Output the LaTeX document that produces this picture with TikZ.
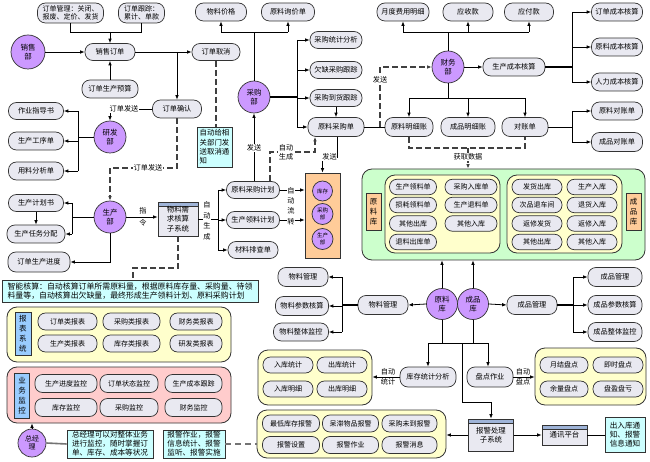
\documentclass[tikz,border=0pt]{standalone}
\usepackage{fontspec}
\setmainfont{Noto Sans CJK SC}
\usetikzlibrary{arrows.meta}
\definecolor{linecol}{HTML}{333333}
\definecolor{pillfill}{HTML}{E9E9F1}
\definecolor{purp}{HTML}{CC99FF}
\definecolor{cyn}{HTML}{CCFFFF}
\definecolor{grn}{HTML}{CCFFCC}
\definecolor{yel}{HTML}{FFFFCC}
\definecolor{pnk}{HTML}{FFCCCC}
\definecolor{orng}{HTML}{FFCC99}
\definecolor{blu}{HTML}{99CCFF}
\definecolor{hdr}{HTML}{9FB4D8}
\begin{document}
\begin{tikzpicture}[x=1pt,y=-1pt,
 base/.style={font=\fontsize{7.2}{8.6}\selectfont, align=center, inner sep=1pt},
 pill/.style={base, draw=linecol, fill=pillfill, rounded corners=8pt, minimum height=17pt, line width=0.7pt},
 btn/.style={pill, minimum height=15.5pt, rounded corners=7.5pt, font=\fontsize{7}{8}\selectfont},
 circ/.style={base, circle, draw=linecol, fill=purp, line width=0.7pt, inner sep=0pt, font=\fontsize{7.5}{9}\selectfont},
 smallcirc/.style={circ, font=\fontsize{5.5}{6.5}\selectfont},
 conn/.style={line width=0.8pt, draw=black},
 thk/.style={line width=1.8pt, draw=black},
 tip/.style={-{Latex[length=4.5pt,width=3.6pt]}},
 arr/.style={conn, tip},
 dashc/.style={line width=1.1pt, dash pattern=on 6pt off 3pt, draw=black!75},
 lbl/.style={base, fill=white, inner sep=0.6pt},
 plainlbl/.style={base, inner sep=0.6pt, font=\fontsize{7.2}{10}\selectfont},
 panel/.style={draw=linecol, rounded corners=10pt, line width=0.8pt, inner sep=0pt},
 vtag/.style={base, draw=linecol, line width=0.6pt, inner sep=0pt, font=\fontsize{7.5}{10}\selectfont},
 note/.style={base, draw=linecol, fill=cyn, line width=0.7pt, align=left, inner sep=1.2pt, font=\fontsize{7.6}{9}\selectfont},
 subsys/.style={base, draw=linecol, fill=pillfill, line width=0.8pt, font=\fontsize{7.4}{9.2}\selectfont,
   path picture={\fill[hdr] (path picture bounding box.north west) rectangle ([yshift=-4pt]path picture bounding box.north east);
   \draw[linecol,line width=0.6pt] ([yshift=-4pt]path picture bounding box.north west) -- ([yshift=-4pt]path picture bounding box.north east);}},
]
\fill[white] (0,0) rectangle (650,462);
\useasboundingbox (0,0) rectangle (650,462);

% ---------- panels (background) ----------
\node[panel, fill=grn, minimum width=283pt, minimum height=91pt] (grnp) at (503.5,214.5) {};
\node[panel, fill=yel, minimum width=115pt, minimum height=78pt] (yp1) at (442.5,214) {};
\node[panel, fill=yel, minimum width=115pt, minimum height=78pt] (yp2) at (564.5,214) {};
\node[panel, fill=yel, minimum width=114pt, minimum height=55pt] (prk) at (315,377.5) {};
\node[panel, fill=yel, minimum width=111pt, minimum height=57pt] (pdp) at (590.5,376.5) {};
\node[panel, fill=yel, minimum width=189pt, minimum height=48pt] (bjp) at (351.5,434) {};
\node[panel, fill=yel, minimum width=224pt, minimum height=55pt] (bbp) at (119,334.5) {};
\node[panel, fill=pnk, minimum width=224pt, minimum height=56pt] (ywp) at (119,395) {};

% ---------- top-left ----------
\node[pill, minimum width=66pt, minimum height=20pt, font=\fontsize{7}{8.4}\selectfont] (dgl) at (70.5,13) {订单管理：关闭、\\报废、定价、发货};
\node[pill, minimum width=46pt, minimum height=20pt, font=\fontsize{7}{8.4}\selectfont] (dgz) at (141.5,13) {订单跟踪：\\累计、单款};
\node[circ, minimum size=34pt] (xsb) at (28,52) {销售\\部};
\node[pill, minimum width=50pt] (xsdd) at (110,52) {销售订单};
\node[pill, minimum width=56pt, minimum height=18pt] (ddyy) at (110,89) {订单生产预算};
\node[pill, minimum width=48pt] (ddqx) at (216,52) {订单取消};
\node[pill, minimum width=49pt, minimum height=18pt] (ddqr) at (177,109) {订单确认};
\node[circ, minimum size=32pt] (yfb) at (110,137) {研发\\部};
\node[pill, minimum width=55pt] (zyzd) at (36,111) {作业指导书};
\node[pill, minimum width=55pt, minimum height=18pt] (scgx) at (36,141) {生产工序单};
\node[pill, minimum width=55pt, minimum height=18pt] (ylfx) at (36,171) {用料分析单};
\node[circ, minimum size=32pt] (scb) at (110,217) {生产\\部};
\node[pill, minimum width=55pt] (scjh) at (36,203) {生产计划书};
\node[pill, minimum width=58pt, minimum height=18pt] (scrw) at (36,234) {生产任务分配};
\node[pill, minimum width=62pt, minimum height=20pt] (ddjd) at (39,262) {订单生产进度};
\node[subsys, minimum width=40pt, minimum height=34pt] (wlxq) at (178,219) {物料需\\求核算\\子系统};
\node[note, minimum width=35pt, minimum height=40pt, font=\fontsize{7.4}{9.4}\selectfont] (qxtz) at (214.5,147) {自动给相\\关部门发\\送取消通\\知};
\node[pill, minimum width=53pt] (ylcg) at (253,190) {原料采购计划};
\node[pill, minimum width=53pt] (scll) at (253,220) {生产领料计划};
\node[pill, minimum width=50pt] (clpc) at (253,250) {材料排查单};
\node[draw=linecol, fill=orng, line width=0.8pt, minimum width=35pt, minimum height=85pt, inner sep=0pt] (kc) at (322.5,215.5) {};
\node[smallcirc, minimum size=20pt] (kc1) at (322.5,191) {库存};
\node[smallcirc, minimum size=21pt] (kc2) at (322.5,214) {采购\\部};
\node[smallcirc, minimum size=21pt] (kc3) at (322.5,239) {生产\\部};

% ---------- purchase ----------
\node[circ, minimum size=32pt] (cgb) at (254,97) {采购\\部};
\node[pill, minimum width=51pt, minimum height=18pt] (wljg) at (221,12) {物料价格};
\node[pill, minimum width=53pt, minimum height=18pt] (ylxj) at (288,12) {原料询价单};
\node[pill, minimum width=52pt] (cgtj) at (336,40) {采购统计分析};
\node[pill, minimum width=52pt] (qqcg) at (336,70) {欠缺采购跟踪};
\node[pill, minimum width=52pt] (cgdh) at (336,98) {采购到货跟踪};
\node[pill, minimum width=56pt, minimum height=19pt] (ylcgd) at (336,127) {原料采购单};

% ---------- finance ----------
\node[circ, minimum size=32pt] (cwb) at (448,67) {财务\\部};
\node[pill, minimum width=52pt, minimum height=18pt] (ydfy) at (403,12) {月度费用明细};
\node[pill, minimum width=50pt, minimum height=18pt] (ysk) at (468,12) {应收款};
\node[pill, minimum width=49pt, minimum height=18pt] (yfk) at (529,12) {应付款};
\node[pill, minimum width=62pt, minimum height=18pt] (sccb) at (514,67) {生产成本核算};
\node[pill, minimum width=51pt, minimum height=18pt] (ddcb) at (617,12) {订单成本核算};
\node[pill, minimum width=51pt, minimum height=18pt] (ylcb) at (617,47) {原料成本核算};
\node[pill, minimum width=51pt, minimum height=18pt] (rlcb) at (617,82) {人力成本核算};
\node[pill, minimum width=48pt, minimum height=19pt] (ylmx) at (409,127) {原料明细账};
\node[pill, minimum width=54pt, minimum height=19pt] (cpmx) at (468,127) {成品明细账};
\node[pill, minimum width=46pt, minimum height=19pt] (dzd) at (525,127) {对账单};
\node[pill, minimum width=51pt, minimum height=18pt] (yldz) at (617,111) {原料对账单};
\node[pill, minimum width=51pt, minimum height=19pt] (cpdz) at (617,142) {成品对账单};

% ---------- warehouse panel ----------
\node[vtag, fill=orng, minimum width=15pt, minimum height=37pt] (ylktag) at (373.5,211.5) {原\\料\\库};
\node[vtag, fill=orng, minimum width=15pt, minimum height=37pt] (cpktag) at (633.5,211.5) {成\\品\\库};
\node[btn, minimum width=47pt] (a1) at (413,187) {生产领料单};
\node[btn, minimum width=52pt] (a2) at (471,187) {采购入库单};
\node[btn, minimum width=47pt] (a3) at (413,205) {损耗领料单};
\node[btn, minimum width=52pt] (a4) at (471,205) {生产退料单};
\node[btn, minimum width=47pt] (a5) at (413,223.5) {其他出库};
\node[btn, minimum width=52pt] (a6) at (471,223.5) {其他入库};
\node[btn, minimum width=47pt] (a7) at (413,242) {退料出库单};
\node[btn, minimum width=50pt] (b1) at (537,187) {发货出库};
\node[btn, minimum width=50pt] (b2) at (592,187) {生产入库};
\node[btn, minimum width=50pt] (b3) at (537,205) {次品退车间};
\node[btn, minimum width=50pt] (b4) at (592,205) {退货入库};
\node[btn, minimum width=50pt] (b5) at (537,223.5) {返修发货};
\node[btn, minimum width=50pt] (b6) at (592,223.5) {返修入库};
\node[btn, minimum width=50pt] (b7) at (537,242) {其他出库};
\node[btn, minimum width=50pt] (b8) at (592,242) {其他入库};

% ---------- stock circles ----------
\node[circ, minimum size=31pt] (ylk) at (442,304) {原料\\库};
\node[circ, minimum size=31pt] (cpk) at (473,304) {成品\\库};
\node[pill, minimum width=50pt, minimum height=19pt] (wlgl) at (383,305) {物料管理};
\node[pill, minimum width=50pt, minimum height=19pt] (wlgl1) at (303,277) {物料管理};
\node[pill, minimum width=53pt, minimum height=19pt] (wlcs) at (302,306) {物料参数核算};
\node[pill, minimum width=55pt, minimum height=18pt] (wljk) at (301,332) {物料整体监控};
\node[pill, minimum width=50pt, minimum height=19pt] (cpgl) at (532,305) {成品管理};
\node[pill, minimum width=54pt, minimum height=19pt] (cpgl1) at (615,277) {成品管理};
\node[pill, minimum width=54pt, minimum height=19pt] (cpcs) at (615,305) {成品参数核算};
\node[pill, minimum width=54pt, minimum height=19pt] (cpjk) at (615,332) {成品整体监控};
\node[pill, minimum width=56pt, minimum height=20pt] (kctj) at (428,377) {库存统计分析};
\node[pill, minimum width=46pt, minimum height=20pt] (pdzy) at (490,377) {盘点作业};

\node[btn, minimum width=50pt, minimum height=16pt] (c1) at (288,365) {入库统计};
\node[btn, minimum width=50pt, minimum height=16pt] (c2) at (342,365) {出库统计};
\node[btn, minimum width=50pt, minimum height=16pt] (c3) at (288,389) {入库明细};
\node[btn, minimum width=50pt, minimum height=16pt] (c4) at (342,389) {出库明细};
\node[btn, minimum width=48pt, minimum height=16pt] (d1) at (564,365) {月结盘点};
\node[btn, minimum width=50pt, minimum height=16pt] (d2) at (618,365) {即时盘点};
\node[btn, minimum width=48pt, minimum height=16pt] (d3) at (564,389) {余量盘点};
\node[btn, minimum width=50pt, minimum height=16pt] (d4) at (618,389) {盘盈盘亏};
\node[btn, minimum width=57pt, minimum height=17pt] (e1) at (291,423.5) {最低库存报警};
\node[btn, minimum width=56pt, minimum height=17pt] (e2) at (350.5,423.5) {呆滞物品报警};
\node[btn, minimum width=55pt, minimum height=17pt] (e3) at (409.5,423.5) {采购未到报警};
\node[btn, minimum width=57pt, minimum height=17pt] (e4) at (291,445) {报警设置};
\node[btn, minimum width=56pt, minimum height=17pt] (e5) at (350.5,445) {报警作业};
\node[btn, minimum width=55pt, minimum height=17pt] (e6) at (409.5,445) {报警消息};
\node[subsys, minimum width=45pt, minimum height=32pt] (bjcl) at (491,435) {报警处理\\子系统};
\node[subsys, minimum width=45pt, minimum height=20pt] (txpt) at (564.5,435) {通讯平台};
\node[note, minimum width=40pt, minimum height=35pt] (tz) at (625,435) {出入库通\\知、报警\\信息通知};

% ---------- reports & monitoring ----------
\node[vtag, fill=blu, minimum width=16pt, minimum height=43pt] (bbtag) at (23,333.5) {报\\表\\系\\统};
\node[btn, minimum width=59pt, minimum height=17pt] (f1) at (67.5,321.5) {订单类报表};
\node[btn, minimum width=57pt, minimum height=17pt] (f2) at (131.5,321.5) {采购类报表};
\node[btn, minimum width=52pt, minimum height=17pt] (f3) at (196,321.5) {财务类报表};
\node[btn, minimum width=59pt, minimum height=17pt] (f4) at (67.5,343.5) {生产类报表};
\node[btn, minimum width=57pt, minimum height=17pt] (f5) at (131.5,343.5) {库存类报表};
\node[btn, minimum width=52pt, minimum height=17pt] (f6) at (196,343.5) {研发类报表};
\node[vtag, fill=blu, minimum width=15pt, minimum height=45pt] (ywtag) at (22,395.5) {业\\务\\监\\控};
\node[btn, minimum width=62pt, minimum height=18pt] (g1) at (66,383.5) {生产进度监控};
\node[btn, minimum width=58pt, minimum height=18pt] (g2) at (129,383.5) {订单状态监控};
\node[btn, minimum width=57pt, minimum height=18pt] (g3) at (193.5,383.5) {生产成本跟踪};
\node[btn, minimum width=62pt, minimum height=18pt] (g4) at (66,407.5) {库存监控};
\node[btn, minimum width=58pt, minimum height=18pt] (g5) at (129,407.5) {采购监控};
\node[btn, minimum width=57pt, minimum height=18pt] (g6) at (193.5,407.5) {财务监控};
\node[circ, minimum size=28pt, font=\fontsize{7}{8.4}\selectfont] (zjl) at (32,443) {总经\\理};
\node[note, minimum width=86pt, minimum height=28pt] (zjn) at (110,444) {总经理可以对整体业务\\进行监控，随时掌握订\\单、库存、成本等状况};
\node[note, minimum width=62pt, minimum height=28pt] (bjn) at (194,444) {报警作业，报警\\信息统计、报警\\监听、报警实施};
\node[note, minimum width=256pt, minimum height=22pt, font=\fontsize{7.9}{9.6}\selectfont] (zn) at (130,291) {智能核算：自动核算订单所需原料量，根据原料库存量、采购量、待领\\料量等，自动核算出欠缺量，最终形成生产领料计划、原料采购计划};

% ---------- connectors: sales / R&D / production ----------
\coordinate (j1) at (110,32);
\draw[conn] (dgl.south) |- (j1);
\draw[conn] (dgz.south) |- (j1);
\draw[arr] (j1) -- (xsdd.north);
\draw[arr] (xsb.east) -- (xsdd.west);
\draw[arr] (ddyy.north) -- (xsdd.south);
\draw[arr] (xsdd.east) -- (ddqx.west);
\coordinate (j2) at (177,52);
\draw[arr] (j2) -- (ddqr.north);
\draw[arr] (ddqr.west) -- (110,109) -- (yfb.north);
\coordinate (j3) at (78,137);
\draw[conn] (yfb.west) -- (j3);
\draw[conn] (j3 |- zyzd) -- (j3 |- ylfx);
\draw[arr] (j3 |- zyzd) -- (zyzd.east);
\draw[arr] (j3 |- scgx) -- (scgx.east);
\draw[arr] (j3 |- ylfx) -- (ylfx.east);
\draw[dashc, tip] (ddqr.south) -- (177,168) -- (110,168) -- (scb.north);
\draw[dashc] (ddqx.south) -- (ddqx.south |- qxtz.north);
\coordinate (j4) at (72,217);
\draw[conn] (scb.west) -- (j4);
\draw[conn] (j4 |- scjh) -- (j4 |- scrw);
\draw[arr] (j4 |- scjh) -- (scjh.east);
\draw[arr] (j4 |- scrw) -- (scrw.east);
\draw[arr] (scjh.south) -- (scrw.north);
\draw[arr] (scb.south) |- (ddjd.east);
\draw[arr] (scb.east) -- (scb.east -| wlxq.west);
\coordinate (j5) at (218,219);
\draw[conn] (wlxq.east) -- (j5);
\draw[conn] (j5 |- ylcg) -- (j5 |- clpc);
\draw[arr] (j5 |- ylcg) -- (ylcg.west);
\draw[arr] (j5 |- scll) -- (scll.west);
\draw[arr] (j5 |- clpc) -- (clpc.west);
\coordinate (j6) at (133,268);
\draw[dashc] (wlxq.south) |- (j6) -- (j6 |- zn.north);
\draw[arr] (ylcg.east) -- (ylcg.east -| kc.west);
\draw[arr] (scll.east) -- (scll.east -| kc.west);

% ---------- connectors: purchase ----------
\draw[arr] (cgb |- ylcg.north) -- (cgb.south);
\coordinate (j7) at (270,152);
\coordinate (j8) at (315,152);
\draw[dashc, tip] (j7 |- ylcg.north) -- (j7) -- (j8) -- (j8 |- ylcgd.south);
\coordinate (j9) at (337,157);
\coordinate (j10) at (322.5,157);
\draw[arr] (j9 |- ylcgd.south) -- (j9) -- (j10) -- (j10 |- kc.north);
\coordinate (j11) at (254,32);
\draw[conn] (cgb.north) -- (j11);
\draw[conn] (wljg |- j11) -- (ylxj |- j11);
\draw[arr] (wljg |- j11) -- (wljg.south);
\draw[arr] (ylxj |- j11) -- (ylxj.south);
\coordinate (j12) at (297,97);
\draw[thk] (cgb.east) -- (j12);
\draw[conn] (j12 |- cgtj) -- (j12 |- ylcgd);
\draw[arr] (j12 |- cgtj) -- (cgtj.west);
\draw[arr] (j12 |- qqcg) -- (qqcg.west);
\draw[arr] (j12 |- cgdh) -- (cgdh.west);
\draw[arr] (j12 |- ylcgd) -- (ylcgd.west);
\draw[arr] (cgdh.south) -- (ylcgd.north);
\draw[conn] (ylcgd.east) -- (ylmx.west);
\coordinate (j13) at (380,127);
\draw[dashc, tip] (j13) -- (j13 |- cwb) -- (cwb.west);

% ---------- connectors: finance ----------
\coordinate (j14) at (448,32);
\draw[conn] (cwb.north) -- (j14);
\draw[conn] (ydfy |- j14) -- (yfk |- j14);
\draw[arr] (ydfy |- j14) -- (ydfy.south);
\draw[arr] (ysk |- j14) -- (ysk.south);
\draw[arr] (yfk |- j14) -- (yfk.south);
\draw[arr] (cwb.east) -- (sccb.west);
\coordinate (j15) at (572,67);
\draw[thk] (sccb.east) -- (j15);
\draw[conn] (j15 |- ddcb) -- (j15 |- rlcb);
\draw[arr] (j15 |- ddcb) -- (ddcb.west);
\draw[arr] (j15 |- ylcb) -- (ylcb.west);
\draw[arr] (j15 |- rlcb) -- (rlcb.west);
\coordinate (j16) at (448,98);
\draw[conn] (cwb.south) -- (j16);
\draw[conn] (ylmx |- j16) -- (dzd |- j16);
\draw[arr] (ylmx |- j16) -- (ylmx.north);
\draw[arr] (cpmx |- j16) -- (cpmx.north);
\draw[arr] (dzd |- j16) -- (dzd.north);
\coordinate (j17) at (572,127);
\draw[conn] (dzd.east) -- (j17);
\draw[conn] (j17 |- yldz) -- (j17 |- cpdz);
\draw[arr] (j17 |- yldz) -- (yldz.west);
\draw[arr] (j17 |- cpdz) -- (cpdz.west);
\coordinate (j18) at (468,148);
\draw[dashc] (ylmx.south) -- (ylmx.south |- j18) -- (dzd.south |- j18) -- (dzd.south);
\draw[dashc, tip] (j18) -- (j18 |- grnp.north);

% ---------- connectors: stock ----------
\draw[arr] (ylk.north) -- (ylk.north |- grnp.south);
\draw[arr] (cpk.north) -- (cpk.north |- grnp.south);
\draw[arr] (ylk.west) -- (wlgl.east);
\coordinate (j19) at (342,305);
\draw[thk] (wlgl.west) -- (j19);
\draw[conn] (j19 |- wlgl1) -- (j19 |- wljk);
\draw[arr] (j19 |- wlgl1) -- (wlgl1.east);
\draw[arr] (j19 |- wlcs) -- (wlcs.east);
\draw[arr] (j19 |- wljk) -- (wljk.east);
\draw[arr] (cpk.east) -- (cpgl.west);
\coordinate (j20) at (573,305);
\draw[thk] (cpgl.east) -- (j20);
\draw[conn] (j20 |- cpgl1) -- (j20 |- cpjk);
\draw[arr] (j20 |- cpgl1) -- (cpgl1.west);
\draw[arr] (j20 |- cpcs) -- (cpcs.west);
\draw[arr] (j20 |- cpjk) -- (cpjk.west);
\coordinate (j21) at (428,343);
\coordinate (j22) at (488,343);
\coordinate (j23) at (462,343);
\draw[conn] (ylk.south) -- (ylk.south |- j21);
\draw[conn] (cpk.south) -- (cpk.south |- j21);
\draw[conn] (j21) -- (j22);
\draw[arr] (j21) -- (kctj.north);
\draw[arr] (j22) -- (j22 |- pdzy.north);
\draw[arr] (j23) -- (462,402) -| (bjcl.north);
\draw[arr] (kctj.west) -- (kctj.west -| prk.east);
\draw[arr] (pdzy.east) -- (pdzy.east -| pdp.west);
\draw[arr] (bjcl.west) -- (bjcl.west -| bjp.east);
\draw[arr] (bjcl.east) -- (txpt.west);
\draw[conn] (txpt.east) -- (tz.west);
\draw[line width=1.3pt, draw=black!55, dash pattern=on 6pt off 4pt] (bjn.east) -- (bjn.east -| bjp.west);
\draw[line width=1.6pt, draw=black!55] (zjl.east) -- (zjn.west);
\draw[arr] (zjl.north) -- (zjl.north |- ywp.south);

% ---------- labels on connectors ----------
\node[lbl] (l1) at (124,109) {订单发送};
\node[lbl] (l2) at (148,168) {订单发送};
\node[base] (l3) at (143,217) {指\\[3pt]令};
\node[lbl, font=\fontsize{7.2}{10.5}\selectfont] (l4) at (207,221) {自\\动\\生\\成};
\node[lbl, font=\fontsize{7.2}{10.4}\selectfont] (l5) at (291,206) {自\\动\\流\\转};
\node[lbl] (l6) at (254,148) {发送};
\node[lbl, font=\fontsize{7.2}{9}\selectfont] (l7) at (286,152) {自动\\生成};
\node[lbl] (l8) at (329.5,157) {发送};
\node[lbl] (l9) at (380,80) {发送};
\node[lbl] (l10) at (468,157) {获取数据};
\node[plainlbl] (l11) at (388,377) {自动\\统计};
\node[plainlbl] (l12) at (523,377) {自动\\盘点};
\end{tikzpicture}
\end{document}
